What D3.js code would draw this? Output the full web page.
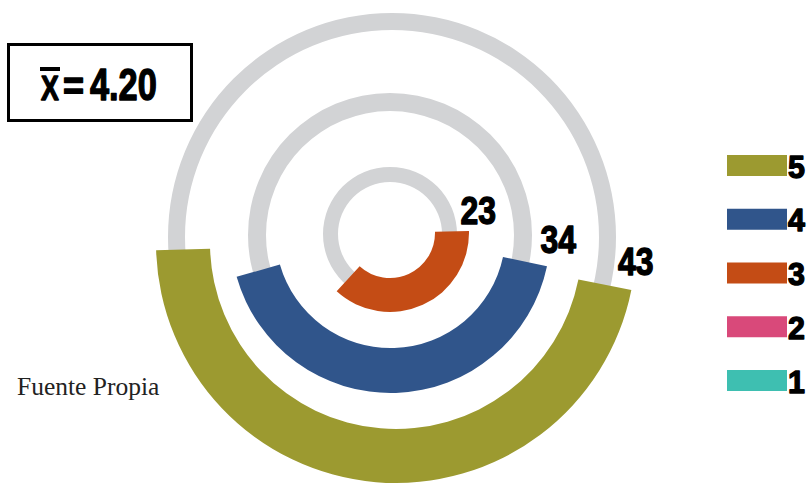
<!DOCTYPE html>
<html>
<head>
<meta charset="utf-8">
<script src="https://cdn.jsdelivr.net/npm/d3@7/dist/d3.min.js"></script>
<style>
  html, body { margin: 0; padding: 0; background: #fff; }
  svg { display: block; }
  .heavy { font-family: "Liberation Sans", Arial, sans-serif; font-weight: bold; fill: #000; stroke: #000; stroke-linejoin: round; }
</style>
</head>
<body>
<svg id="chart" width="810" height="485"></svg>
<script>
// Response levels shown as rings, and the share (%) of each
const categories = ["3", "4", "5"];
const values = [23, 34, 43];

// Legend entries, top to bottom
const legendKeys = ["5", "4", "3", "2", "1"];
const legendColors = ["#9c9a30", "#30558b", "#c44c15", "#d9497a", "#3ebfb1"];

// Mean score shown in the box
const meanValue = "4.20";
const sourceNote = "Fuente Propia";

// Ring geometry (inner to outer): arc band, background track, label placement
const ringLayout = [
  { cx: 390,   cy: 233, r0: 45,  r1: 79,  start: 88.5,
    track: { cx: 390, cy: 234, r0: 52,  r1: 67 },  label: { angle: 76,   r: 91 } },
  { cx: 390.5, cy: 233, r0: 115, r1: 160, start: 102,
    track: { cx: 390, cy: 235, r0: 124, r1: 142 }, label: { angle: 92.2, r: 168 } },
  { cx: 396,   cy: 243, r0: 186, r1: 240, start: 101.3,
    track: { cx: 392, cy: 237, r0: 207, r1: 224 }, label: { angle: 94.4, r: 240.5 } }
];

const svg = d3.select("#chart");
const rad = d => d * Math.PI / 180;

const color = d3.scaleOrdinal().domain(legendKeys).range(legendColors);
// percentage -> sweep of the arc in degrees
const sweep = d3.scaleLinear().domain([0, 100]).range([96, 261]);

const arc = d3.arc();

// condensed heavy text: placed at (x, y) and squeezed horizontally
function heavyText(parent, x, y, str, size, sx, anchor) {
  return parent.append("text")
    .attr("class", "heavy")
    .attr("transform", `translate(${x},${y}) scale(${sx},1)`)
    .attr("font-size", size)
    .attr("stroke-width", 1.4)
    .attr("text-anchor", anchor || "start")
    .text(str);
}

const rings = categories.map((c, i) => ({ key: c, value: values[i], g: ringLayout[i] }));

// background tracks
svg.append("g").selectAll("path")
  .data(rings)
  .join("path")
  .attr("transform", d => `translate(${d.g.track.cx},${d.g.track.cy})`)
  .attr("fill", "#d2d3d5")
  .attr("d", d => arc({ innerRadius: d.g.track.r0, outerRadius: d.g.track.r1, startAngle: 0, endAngle: 2 * Math.PI }));

// value arcs
svg.append("g").selectAll("path")
  .data(rings)
  .join("path")
  .attr("transform", d => `translate(${d.g.cx},${d.g.cy})`)
  .attr("fill", d => color(d.key))
  .attr("d", d => arc({
    innerRadius: d.g.r0, outerRadius: d.g.r1,
    startAngle: rad(d.g.start), endAngle: rad(d.g.start + sweep(d.value))
  }));

// value labels
const labelLayer = svg.append("g");
rings.forEach(d => {
  const x = d.g.cx + d.g.label.r * Math.sin(rad(d.g.label.angle));
  const y = d.g.cy - d.g.label.r * Math.cos(rad(d.g.label.angle));
  heavyText(labelLayer, x, y + 13.5, d.value, 38, 0.84, "middle");
});

// legend
const ly = d3.scalePoint().domain(legendKeys).range([165.5, 380.5]);
const legend = svg.append("g").selectAll("g")
  .data(legendKeys)
  .join("g")
  .attr("transform", d => `translate(727,${ly(d)})`);
legend.append("rect")
  .attr("x", 0).attr("y", -10.5).attr("width", 60).attr("height", 21)
  .attr("fill", d => color(d));
legend.each(function (d) {
  heavyText(d3.select(this), 61, 12, d, 32, 0.95);
});

// mean box
const box = svg.append("g");
box.append("rect")
  .attr("x", 8.5).attr("y", 44.5).attr("width", 183).attr("height", 76)
  .attr("fill", "#fff").attr("stroke", "#000").attr("stroke-width", 3);
heavyText(box, 41, 100, "X", 35, 0.76);
box.append("rect")
  .attr("x", 40).attr("y", 67).attr("width", 20).attr("height", 4).attr("fill", "#000");
heavyText(box, 63, 100, "=", 40, 0.9);
heavyText(box, 90, 100, meanValue, 44, 0.78);

// source note
svg.append("text")
  .attr("x", 17).attr("y", 395)
  .attr("font-family", "'Liberation Serif', 'DejaVu Serif', serif")
  .attr("font-size", 25.5)
  .attr("fill", "#222")
  .text(sourceNote);
</script>
</body>
</html>
